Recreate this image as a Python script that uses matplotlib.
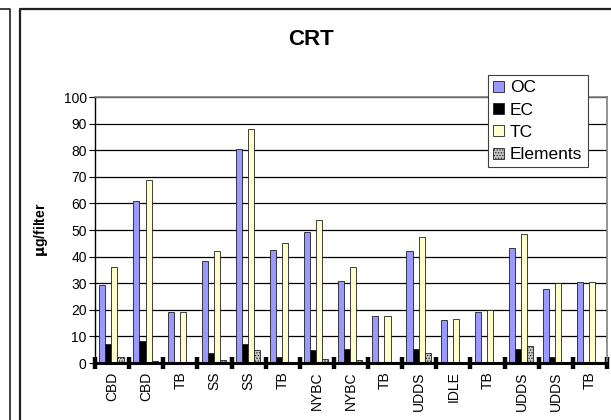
import matplotlib
matplotlib.use("Agg")
import matplotlib.pyplot as plt
from matplotlib.lines import Line2D
import numpy as np

plt.rcParams['font.family'] = ['Liberation Sans', 'DejaVu Sans']
plt.rcParams['hatch.color'] = '#404040'
plt.rcParams['hatch.linewidth'] = 0.6

cycles = ["CBD", "CBD", "TB", "SS", "SS", "TB", "NYBC", "NYBC", "TB",
          "UDDS", "IDLE", "TB", "UDDS", "UDDS", "TB"]
oc = [29.3, 60.8, 19.3, 38.3, 80.6, 42.6, 49.1, 30.8, 17.6, 42.1, 16.2, 19.2, 43.1, 27.7, 30.4]
ec = [7.0, 8.2, 0.3, 3.9, 7.0, 2.2, 4.9, 5.4, 0.3, 5.4, 0.2, 0.2, 5.4, 2.2, 0.2]
tc = [36.1, 68.8, 19.3, 42.0, 88.0, 45.2, 53.8, 36.2, 17.6, 47.5, 16.5, 19.8, 48.5, 30.0, 30.4]
elements = [2.1, 0.8, 0.3, 1.3, 4.8, 0.3, 1.4, 1.0, 0.3, 3.8, 0.2, 0.2, 6.4, 0.3, 0.2]

fig = plt.figure(figsize=(6.11, 4.20), dpi=100)
ax = fig.add_axes([0.1555, 0.1357, 0.838, 0.633])

x = np.arange(len(cycles)) + 0.5
w = 0.178
series = [("OC", oc, dict(color="#9999FF")),
          ("EC", ec, dict(color="#000000")),
          ("TC", tc, dict(color="#FFFFCC")),
          ("Elements", elements, dict(color="#C8C8C8", hatch="......"))]
for i, (name, vals, style) in enumerate(series):
    ax.bar(x + (i - 1.5) * w - 0.02, vals, width=w, edgecolor="#202020",
           linewidth=0.6, label=name, zorder=3, **style)

ax.set_xlim(0, len(cycles))
ax.set_ylim(0, 100)
ax.set_yticks(range(0, 101, 10))
ax.yaxis.grid(True, color="black", linewidth=0.9, zorder=0)
ax.tick_params(axis="y", direction="out", length=4, width=0.8, labelsize=10, pad=2)

ax.set_xticks(np.arange(len(cycles) + 1))
ax.set_xticklabels([])
ax.tick_params(axis="x", which="major", direction="inout", length=8, width=3.2)
ax.set_xticks(x, minor=True)
ax.set_xticklabels(cycles, minor=True, rotation=90, fontsize=10)
ax.tick_params(axis="x", which="minor", length=0, pad=6)

for s in ["top", "right"]:
    ax.spines[s].set_color("#808080")
    ax.spines[s].set_linewidth(1.2)
ax.spines["left"].set_linewidth(1.0)
ax.spines["bottom"].set_linewidth(2.2)
ax.spines["bottom"].set_zorder(4)

ax.set_ylabel("$\\mathbf{\\mu}$g/filter", fontsize=10, fontweight="bold", labelpad=10)
fig.text(0.509, 0.905, "CRT", fontsize=16, fontweight="bold", ha="center", va="center")

leg = ax.legend(loc="upper left", bbox_to_anchor=(0.768, 1.083), frameon=True,
                fancybox=False, framealpha=1, edgecolor="#404040", fontsize=12.5,
                handlelength=0.6, handleheight=0.6, handletextpad=0.35,
                borderpad=0.3, labelspacing=0.42, borderaxespad=0)
leg.get_frame().set_linewidth(0.8)

# chart frames
fig.add_artist(Line2D([19.5 / 611, 19.5 / 611, 1.0], [0, 1 - 8.5 / 420, 1 - 8.5 / 420],
                      color="#202020", linewidth=1.6))
fig.add_artist(Line2D([0, 10 / 611, 10 / 611], [1 - 8.5 / 420, 1 - 8.5 / 420, 0],
                      color="#202020", linewidth=1.2))

fig.savefig("out.png", dpi=100)
